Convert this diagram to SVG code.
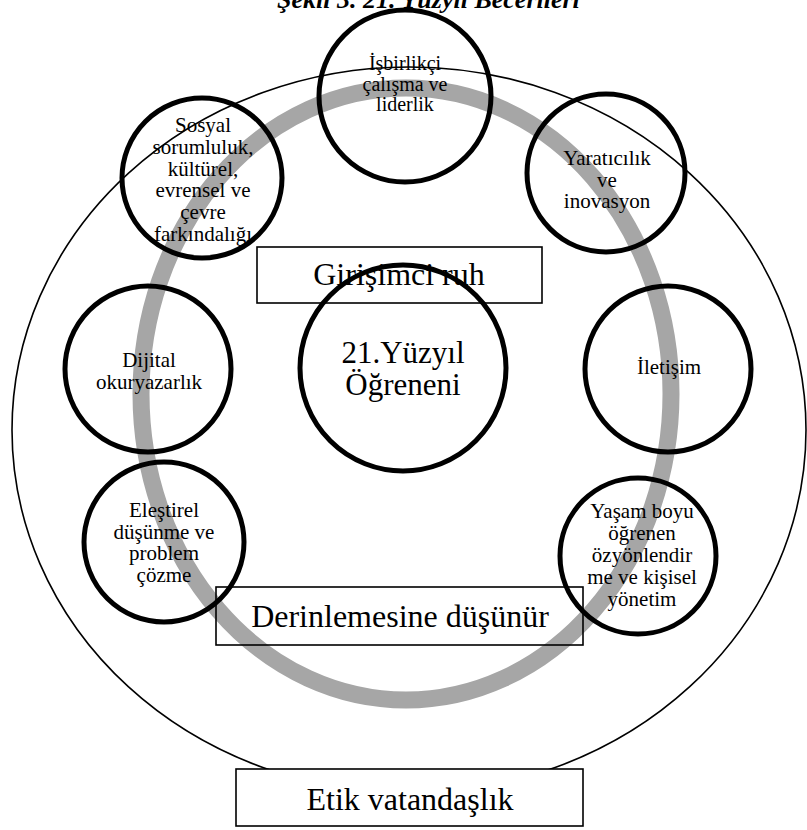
<svg xmlns="http://www.w3.org/2000/svg" width="807" height="830" viewBox="0 0 807 830">
  <style>
    text { font-family: "Liberation Serif", "Times New Roman", serif; fill: #000; text-anchor: middle; }
    .title { font-size: 26px; font-weight: bold; font-style: italic; text-anchor: start; }
    .skill { font-size: 21px; }
    .tight { font-size: 20px; }
    .big { font-size: 32px; }
    .core { font-size: 31px; }
    .skill-ring { fill: none; stroke: #000; stroke-width: 5; }
    .box { stroke: #000; stroke-width: 1.6; }
  </style>

  <rect width="807" height="830" fill="#fff"/>

  <text class="title" x="277" y="8">Şekil 3. 21. Yüzyıl Becerileri</text>

  <!-- outer boundary and grey band -->
  <g id="connectors">
    <ellipse id="outer" cx="409" cy="430" rx="397" ry="363" fill="none" stroke="#000" stroke-width="1.6"/>
    <ellipse id="band" cx="406" cy="394" rx="265" ry="306" fill="none" stroke="#a6a6a6" stroke-width="17"/>
  </g>

  <!-- labelled boxes -->
  <g id="girisimci">
    <rect class="box" x="257" y="247" width="285" height="56" fill="#fff"/>
    <text class="big" x="399" y="285">Girişimci ruh</text>
  </g>
  <g id="derinlemesine">
    <rect class="box" x="216" y="587" width="367" height="58" fill="none"/>
    <text class="big" x="400" y="627">Derinlemesine düşünür</text>
  </g>
  <g id="etik">
    <rect class="box" x="236" y="769" width="347" height="57" fill="#fff"/>
    <text class="big" x="410" y="810">Etik vatandaşlık</text>
  </g>

  <!-- centre -->
  <g id="ogrenen">
    <circle class="skill-ring" cx="403" cy="368" r="103"/>
    <text class="core" x="403" y="362.5">21.Yüzyıl<tspan x="403" dy="32.5">Öğreneni</tspan></text>
  </g>

  <!-- skills -->
  <g id="isbirlikci">
    <circle class="skill-ring" cx="405" cy="96" r="86"/>
    <text class="tight" x="405" y="70">İşbirlikçi<tspan x="405" dy="20.7">çalışma ve</tspan><tspan x="405" dy="20.7">liderlik</tspan></text>
  </g>
  <g id="yaraticilik">
    <circle class="skill-ring" cx="606" cy="173" r="79"/>
    <text class="skill" x="607" y="165">Yaratıcılık<tspan x="607" dy="21.7">ve</tspan><tspan x="607" dy="21.7">inovasyon</tspan></text>
  </g>
  <g id="iletisim">
    <circle class="skill-ring" cx="668" cy="369" r="83"/>
    <text class="skill" x="669" y="374">İletişim</text>
  </g>
  <g id="yasam-boyu">
    <circle class="skill-ring" cx="638" cy="556" r="78"/>
    <text class="skill" x="642" y="518">Yaşam boyu<tspan x="642" dy="22">öğrenen</tspan><tspan x="642" dy="22">özyönlendir</tspan><tspan x="642" dy="22">me ve kişisel</tspan><tspan x="642" dy="22">yönetim</tspan></text>
  </g>
  <g id="elestirel">
    <circle class="skill-ring" cx="164" cy="542" r="80"/>
    <text class="skill" x="164" y="517">Eleştirel<tspan x="164" dy="21.7">düşünme ve</tspan><tspan x="164" dy="21.7">problem</tspan><tspan x="164" dy="21.7">çözme</tspan></text>
  </g>
  <g id="dijital">
    <circle class="skill-ring" cx="148" cy="369" r="83"/>
    <text class="skill" x="149" y="367">Dijital<tspan x="149" dy="22">okuryazarlık</tspan></text>
  </g>
  <g id="sosyal">
    <circle class="skill-ring" cx="202" cy="178" r="80"/>
    <text class="skill" x="203" y="132">Sosyal<tspan x="203" dy="21.8">sorumluluk,</tspan><tspan x="203" dy="21.8">kültürel,</tspan><tspan x="203" dy="21.8">evrensel ve</tspan><tspan x="203" dy="21.8">çevre</tspan><tspan x="203" dy="21.8">farkındalığı</tspan></text>
  </g>
</svg>
